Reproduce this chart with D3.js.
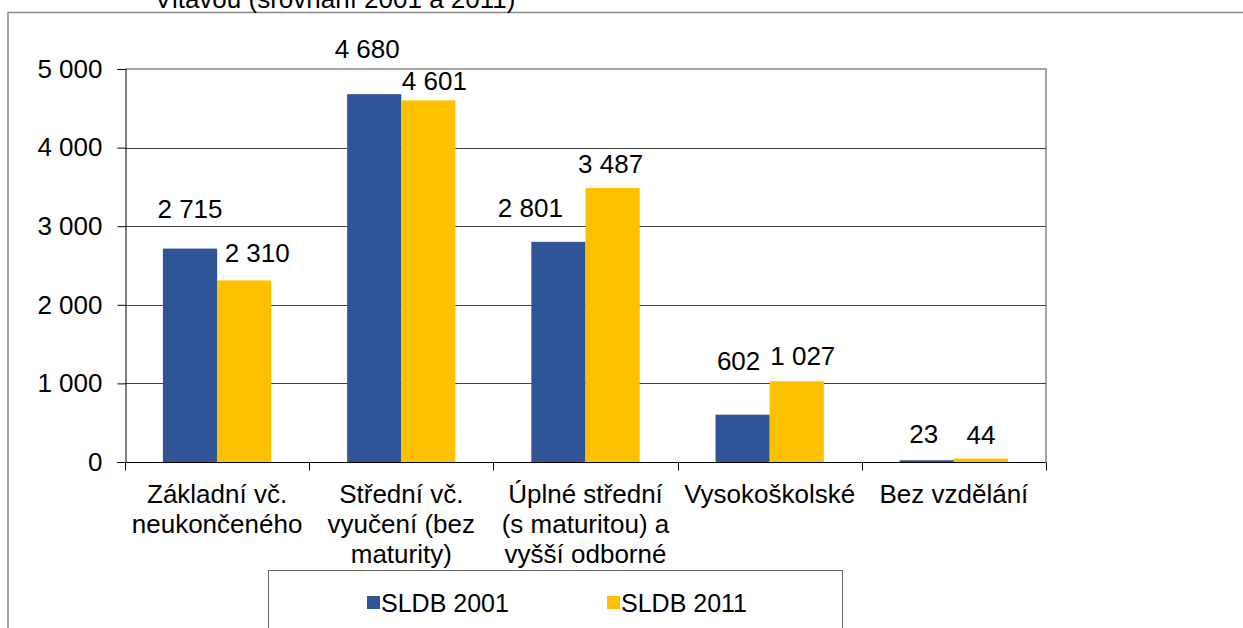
<!DOCTYPE html>
<html>
  <head>
    <meta charset="utf-8">
    <title>SLDB 2001 / 2011</title>
    <script src="https://cdn.jsdelivr.net/npm/d3@7/dist/d3.min.js"></script>
    <style>
      body { margin: 0; background: #fff; }
      svg text { font-family: "Liberation Sans", Arial, sans-serif; fill: #000; }
    </style>
  </head>
  <body>
    <svg width="1243" height="628"></svg>
    <script>
      var categories = [
        ['Základní vč.', 'neukončeného'],
        ['Střední vč.', 'vyučení (bez', 'maturity)'],
        ['Úplné střední', '(s maturitou) a', 'vyšší odborné'],
        ['Vysokoškolské'],
        ['Bez vzdělání']
      ];
      var seriesNames = ['SLDB 2001', 'SLDB 2011'];
      var values2001 = [2715, 4680, 2801, 602, 23];
      var values2011 = [2310, 4601, 3487, 1027, 44];
      var yTicks = [0, 1000, 2000, 3000, 4000, 5000];
      var colors = ['#2F5597', '#FFC000'];

      // hand-placed label nudges (px), as in the original
      var labelLift = [[31, 18], [36, 10], [25, 15], [45, 16], [17, 15]];
      var labelShift = [[0, 13], [-7, 6], [-28, -2], [-4, 6], [-3, 0]];

      var fmt = function(v) { return d3.format(',')(v).replace(/,/g, ' '); };

      var svg = d3.select('svg');
      var pLeft = 125, pRight = 1046, pTop = 69, pBottom = 462;
      var fs = '26px';

      // outer frame (cut)
      svg.append('line').attr('x1', 8).attr('x2', 1243).attr('y1', 12.5).attr('y2', 12.5)
        .attr('stroke', '#888').attr('stroke-width', 1.5);
      svg.append('line').attr('x1', 8).attr('x2', 8).attr('y1', 12).attr('y2', 628)
        .attr('stroke', '#888').attr('stroke-width', 1.5);

      svg.append('text').attr('x', 335).attr('y', 8).attr('text-anchor', 'middle')
        .style('font-size', fs).text('Vltavou (srovnání 2001 a 2011)');

      var x = d3.scaleBand().domain(d3.range(categories.length)).range([pLeft, pRight]);
      var xs = d3.scaleBand().domain([0, 1]).range([0, x.bandwidth()]).paddingOuter(0.7);
      var y = d3.scaleLinear().domain([0, 5000]).range([pBottom, pTop]);

      // plot area frame right/top
      svg.append('path').attr('d', 'M' + pLeft + ',' + pTop + 'H' + pRight + 'V' + pBottom)
        .attr('fill', 'none').attr('stroke', '#888').attr('stroke-width', 1.5);

      svg.append('g').selectAll('line').data(yTicks.slice(1, -1)).join('line')
        .attr('x1', pLeft).attr('x2', pRight)
        .attr('y1', function(d) { return Math.round(y(d)) + 0.5; })
        .attr('y2', function(d) { return Math.round(y(d)) + 0.5; })
        .attr('stroke', '#404040');

      var rows = categories.map(function(c, i) { return [values2001[i], values2011[i]]; });

      var g = svg.append('g').selectAll('g').data(rows).join('g')
        .attr('transform', function(d, i) { return 'translate(' + x(i) + ',0)'; });
      g.selectAll('rect').data(function(d) { return d; }).join('rect')
        .attr('x', function(d, j) { return xs(j); })
        .attr('width', xs.bandwidth())
        .attr('y', function(d) { return y(d); })
        .attr('height', function(d) { return pBottom - y(d); })
        .attr('fill', function(d, j) { return colors[j]; });
      g.selectAll('text').data(function(d, i) {
          return d.map(function(v, j) { return {v: v, i: i, j: j}; });
        }).join('text')
        .attr('x', function(d) { return xs(d.j) + xs.bandwidth() / 2 + labelShift[d.i][d.j]; })
        .attr('y', function(d) { return y(d.v) - labelLift[d.i][d.j]; })
        .attr('text-anchor', 'middle').style('font-size', fs)
        .text(function(d) { return fmt(d.v); });

      // y axis
      var yAxis = svg.append('g').attr('transform', 'translate(' + (pLeft + 0.5) + ',0)')
        .call(d3.axisLeft(y).tickValues(yTicks).tickSize(8).tickPadding(15).tickFormat(fmt));
      yAxis.select('.domain').attr('stroke', '#000');
      yAxis.selectAll('.tick line').attr('stroke', '#000');
      yAxis.selectAll('.tick text').style('font-size', fs).attr('font-family', null);

      // x axis: ticks at category boundaries
      var xAxisG = svg.append('g').attr('transform', 'translate(0,' + (pBottom + 0.5) + ')');
      xAxisG.append('line').attr('x1', pLeft - 8).attr('x2', pRight).attr('stroke', '#000');
      xAxisG.selectAll('.b').data(d3.range(categories.length + 1)).join('line').attr('class', 'b')
        .attr('x1', function(d) { return Math.round(pLeft + d * x.step()) + 0.5; })
        .attr('x2', function(d) { return Math.round(pLeft + d * x.step()) + 0.5; })
        .attr('y1', 0).attr('y2', 8).attr('stroke', '#000');
      var lbl = xAxisG.selectAll('text').data(categories).join('text')
        .attr('x', function(d, i) { return x(i) + x.bandwidth() / 2; })
        .attr('y', 40).attr('text-anchor', 'middle').style('font-size', fs);
      lbl.selectAll('tspan').data(function(d) { return d; }).join('tspan')
        .attr('x', function() { return d3.select(this.parentNode).attr('x'); })
        .attr('dy', function(d, k) { return k ? 30 : 0; })
        .text(function(d) { return d; });

      // legend
      var lg = svg.append('g');
      lg.append('rect').attr('x', 268.5).attr('y', 570.5).attr('width', 574).attr('height', 70)
        .attr('fill', '#fff').attr('stroke', '#666');
      var li = lg.selectAll('g').data(seriesNames).join('g')
        .attr('transform', function(d, i) { return 'translate(' + (367 + i * 240) + ',603)'; });
      li.append('rect').attr('x', 0).attr('y', -7).attr('width', 13).attr('height', 13)
        .attr('fill', function(d, i) { return colors[i]; });
      li.append('text').attr('x', 14).attr('y', 9).style('font-size', '25px').text(function(d) { return d; });
    </script>
  </body>
</html>
